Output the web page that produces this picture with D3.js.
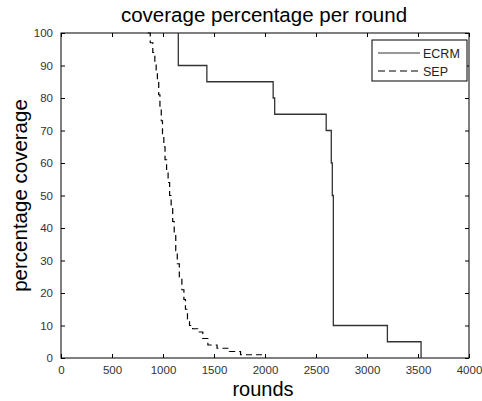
<!DOCTYPE html>
<html>
<head>
<meta charset="utf-8">
<style>
  body{ margin:0; background:#fff; }
  svg{ display:block; font-family:"Liberation Sans", Arial, sans-serif; }
</style>
<script src="https://d3js.org/d3.v7.min.js"></script>
</head>
<body>
<script>
// ECRM: coverage held until next round (step)
var ecrmRounds = [1150, 1150, 1430, 2080, 2095, 2600, 2650, 2660, 2670, 3200, 3530];
var ecrmCover  = [100, 90, 85, 80, 75, 70, 60, 50, 10, 5, 0];

// SEP
var sepRounds = [850, 875, 900, 920, 933, 945, 958, 970, 983, 995, 1008, 1020, 1035, 1050, 1065, 1080,
                 1095, 1110, 1125, 1140, 1160, 1185, 1205, 1220, 1240, 1260, 1290, 1340, 1390, 1440,
                 1530, 1650, 1760, 2000];
var sepCover  = [100, 97, 94, 91, 88, 85, 81, 77, 73, 69, 65, 61, 58, 54, 50, 46,
                 42, 38, 33, 29, 25, 21, 18, 15, 12, 10, 9, 8, 6, 4,
                 3, 2, 1, 1];

var xTicks = [0, 500, 1000, 1500, 2000, 2500, 3000, 3500, 4000];
var yTicks = [0, 10, 20, 30, 40, 50, 60, 70, 80, 90, 100];
var seriesNames = ["ECRM", "SEP"];

var W = 482, H = 401;
var pL = 61, pR = 469, pT = 33, pB = 358;

var svg = d3.select("body").append("svg").attr("width", W).attr("height", H);

var x = d3.scaleLinear().domain([0, 4000]).range([pL, pR]);
var y = d3.scaleLinear().domain([0, 100]).range([pB, pT]);

// frame
svg.append("rect").attr("x", pL).attr("y", pT)
  .attr("width", pR - pL).attr("height", pB - pT)
  .attr("fill", "none").attr("stroke", "#000").attr("stroke-width", 1);

// axes (ticks inside, mirrored)
var tk = 4;
var gx = svg.append("g").attr("transform", "translate(0," + pB + ")")
  .call(d3.axisBottom(x).tickValues(xTicks).tickSize(-tk).tickPadding(8).tickFormat(d3.format("d")));
var gxt = svg.append("g").attr("transform", "translate(0," + pT + ")")
  .call(d3.axisTop(x).tickValues(xTicks).tickSize(-tk).tickFormat(""));
var gy = svg.append("g").attr("transform", "translate(" + pL + ",0)")
  .call(d3.axisLeft(y).tickValues(yTicks).tickSize(-tk).tickPadding(8));
var gyr = svg.append("g").attr("transform", "translate(" + pR + ",0)")
  .call(d3.axisRight(y).tickValues(yTicks).tickSize(-tk).tickFormat(""));

[gx, gxt, gy, gyr].forEach(function(g){
  g.select(".domain").remove();
  g.selectAll("line").attr("stroke", "#000");
  g.selectAll("text").attr("fill", "#333").style("font-size", "11.5px")
    .style("font-family", "'Liberation Sans', Arial, sans-serif");
});

var line = d3.line()
  .x(function(d){ return x(d[0]); })
  .y(function(d){ return y(d[1]); })
  .curve(d3.curveStepAfter);

var ecrm = ecrmRounds.map(function(r, i){ return [r, ecrmCover[i]]; });
var sep = sepRounds.map(function(r, i){ return [r, sepCover[i]]; });

svg.append("path").datum(ecrm).attr("d", line)
  .attr("fill", "none").attr("stroke", "#333").attr("stroke-width", 1.3);
svg.append("path").datum(sep).attr("d", line)
  .attr("fill", "none").attr("stroke", "#000").attr("stroke-width", 1.2)
  .attr("stroke-dasharray", "6,4");

// legend
var lg = svg.append("g");
lg.append("rect").attr("x", 372).attr("y", 40).attr("width", 95).attr("height", 41)
  .attr("fill", "#fff").attr("stroke", "#000").attr("stroke-width", 1);
var ly = [53, 71];
seriesNames.forEach(function(name, i){
  lg.append("line").attr("x1", 378).attr("x2", 420).attr("y1", ly[i]).attr("y2", ly[i])
    .attr("stroke", i == 0 ? "#333" : "#000").attr("stroke-width", 1.2)
    .attr("stroke-dasharray", i == 0 ? null : "7,4");
  lg.append("text").attr("x", 423).attr("y", ly[i] + 4.5).text(name)
    .attr("fill", "#222").style("font-size", "12.5px");
});

// title and labels
svg.append("text").attr("x", 264).attr("y", 22)
  .attr("text-anchor", "middle").style("font-size", "20.5px").attr("fill", "#000")
  .text("coverage percentage per round");
svg.append("text").attr("x", 263).attr("y", 396)
  .attr("text-anchor", "middle").style("font-size", "20px").attr("fill", "#000")
  .text("rounds");
svg.append("text")
  .attr("transform", "translate(27," + ((pT + pB) / 2) + ") rotate(-90)")
  .attr("text-anchor", "middle").style("font-size", "20.5px").attr("fill", "#000")
  .text("percentage coverage");
</script>
</body>
</html>
